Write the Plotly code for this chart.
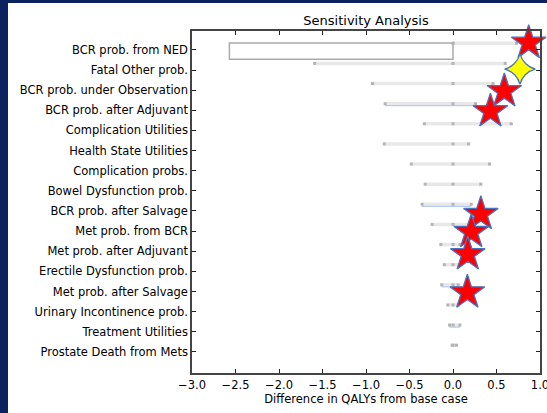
import plotly.graph_objects as go

categories = [
    "BCR prob. from NED", "Fatal Other prob.", "BCR prob. under Observation",
    "BCR prob. after Adjuvant", "Complication Utilities", "Health State Utilities",
    "Complication probs.", "Bowel Dysfunction prob.", "BCR prob. after Salvage",
    "Met prob. from BCR", "Met prob. after Adjuvant", "Erectile Dysfunction prob.",
    "Met prob. after Salvage", "Urinary Incontinence prob.", "Treatment Utilities",
    "Prostate Death from Mets",
]
range_low = [0.0, -1.59, -0.925, -0.78, -0.33, -0.79, -0.48, -0.32, -0.355, -0.24,
             -0.14, -0.10, -0.13, -0.06, -0.04, -0.01]
range_high = [0.73, 0.60, 0.46, 0.26, 0.67, 0.18, 0.42, 0.32, 0.21, 0.21,
              0.08, 0.10, 0.06, 0.065, 0.08, 0.04]
base_value = 0.0
blue_rows = [3, 8, 12, 14]

big_rect_row = 0
big_rect_low = -2.57
big_rect_high = 0.0

star_rows = [0, 2, 3, 8, 9, 10, 12]
star_x = [0.87, 0.59, 0.43, 0.32, 0.21, 0.17, 0.165]
star_dy = [-0.35, 0.05, 0.05, 0.15, 0.05, 0.15, 0.05]
yellow_row = 1
yellow_x = 0.77
yellow_dy = -0.05

x_ticks = [-3.0, -2.5, -2.0, -1.5, -1.0, -0.5, 0.0, 0.5, 1.0]
x_ticktext = ["\u22123.0", "\u22122.5", "\u22122.0", "\u22121.5", "\u22121.0", "\u22120.5", "0.0", "0.5", "1.0"]

BAR_OFF = -0.33
n = len(categories)

fig = go.Figure()

# big rectangle (row 0)
fig.add_trace(go.Bar(
    y=[big_rect_row + 0.06], x=[big_rect_high - big_rect_low], base=[big_rect_low],
    orientation="h", width=0.8,
    marker=dict(color="white", line=dict(color="#aaaaaa", width=1.5)),
    showlegend=False, hoverinfo="skip",
))

# gray range bars
for i in range(n):
    yb = i + BAR_OFF
    fig.add_trace(go.Scatter(
        x=[range_low[i], range_high[i]], y=[yb, yb], mode="lines",
        line=dict(color="#e8e8e8", width=3.5), showlegend=False, hoverinfo="skip",
    ))
    if i in blue_rows:
        fig.add_trace(go.Scatter(
            x=[range_low[i], range_high[i]], y=[yb + 0.1, yb + 0.1], mode="lines",
            line=dict(color="#a9c1ee", width=1), showlegend=False, hoverinfo="skip",
        ))
    fig.add_trace(go.Scatter(
        x=[range_low[i], base_value, range_high[i]], y=[yb, yb, yb], mode="markers",
        marker=dict(symbol="square", size=3, color="#b4b4b4"),
        showlegend=False, hoverinfo="skip",
    ))

# red stars
fig.add_trace(go.Scatter(
    x=star_x, y=[r + d for r, d in zip(star_rows, star_dy)], mode="markers",
    marker=dict(symbol="star", size=26, color="#ff0000", line=dict(color="#4a72c0", width=1.3)),
    showlegend=False, hoverinfo="skip", cliponaxis=False,
))
# yellow star
fig.add_trace(go.Scatter(
    x=[yellow_x], y=[yellow_row + yellow_dy], mode="markers",
    marker=dict(symbol="star-diamond", size=22, color="#ffff00", line=dict(color="#4a72c0", width=1.3)),
    showlegend=False, hoverinfo="skip", cliponaxis=False,
))

W, H = 547, 413
L, R, T, B = 192, 7, 31, 40
pw, ph = W - L - R, H - T - B

def px_x(p):
    return (p - L) / pw

def px_y(p):
    return (H - B - p) / ph

fig.add_shape(type="rect", xref="paper", yref="paper",
              x0=px_x(8), x1=px_x(W + 5), y0=px_y(H + 5), y1=px_y(3),
              fillcolor="white", line=dict(width=0), layer="below")

fig.update_layout(
    width=W, height=H,
    margin=dict(l=L, r=R, t=T, b=B, autoexpand=False),
    paper_bgcolor="#0b2160", plot_bgcolor="white",
    font=dict(family="DejaVu Sans", size=11.5, color="black"),
    title=dict(text="Sensitivity Analysis", x=366 / W, xanchor="center", xref="container",
               y=1 - 20 / H, yanchor="middle", yref="container",
               font=dict(size=13, color="black")),
    barmode="overlay",
    xaxis=dict(range=[-3, 1], tickvals=x_ticks, ticktext=x_ticktext, automargin=False,
               ticklabeloverflow="allow",
               showgrid=False, zeroline=False, showline=True, linecolor="#444444", linewidth=1.5,
               mirror="ticks", ticks="inside", ticklen=4, tickcolor="#222222",
               title=dict(text="Difference in QALYs from base case", standoff=4, font=dict(size=11.5))),
    yaxis=dict(range=[16.05, -0.94], tickvals=list(range(n)), ticktext=categories, automargin=False,
               ticklabeloverflow="allow",
               showgrid=False, zeroline=False, showline=True, linecolor="#444444", linewidth=1.5,
               mirror="ticks", ticks="inside", ticklen=4, tickcolor="#222222"),
)

fig.write_html("out.html", config={"displayModeBar": False},
               post_script="document.body.style.margin='0';document.body.style.overflow='hidden';")
